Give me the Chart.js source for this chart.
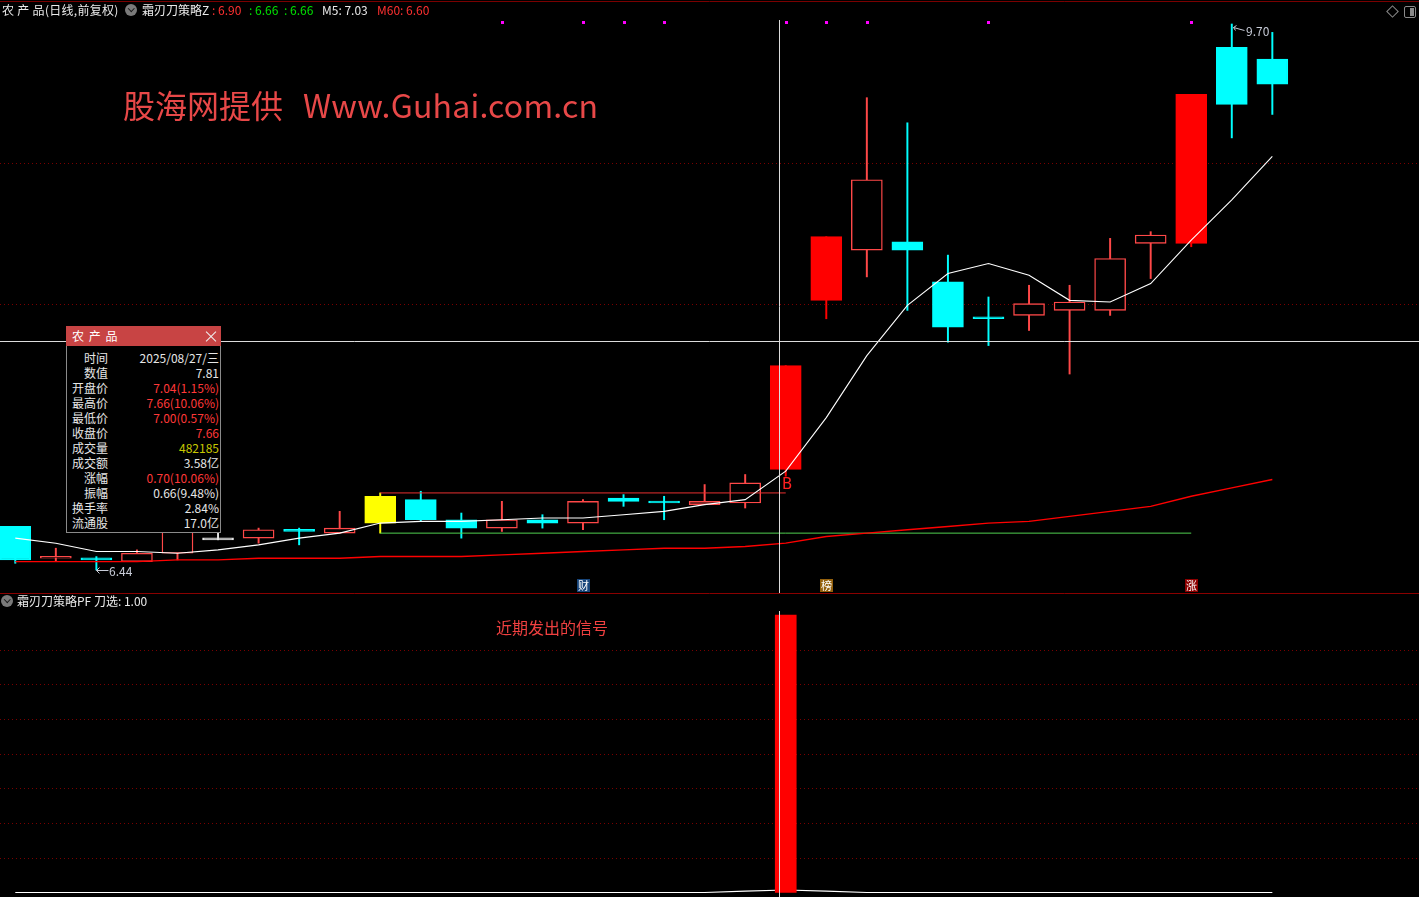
<!DOCTYPE html>
<html lang="zh-CN">
<head>
<meta charset="utf-8">
<title>农产品 霜刃刀策略</title>
<script src="https://cdn.jsdelivr.net/npm/chart.js@4.4.1/dist/chart.umd.min.js"></script>
<style>
  html, body { margin:0; padding:0; background:#000; }
  body { position:relative; width:1419px; height:897px; overflow:hidden;
         font-family:"Noto Sans CJK SC","Noto Sans",sans-serif; color:#e6e6e6; }
  canvas { position:absolute; left:0; display:block; }
  #cTop { top:0; }
  #cBot { top:593px; }
  .t { position:absolute; white-space:nowrap; font-size:12px; line-height:14px; }
  .icon { position:absolute; width:12px; height:12px; border-radius:50%; background:#7a7a7a; }
  .icon::after { content:""; position:absolute; left:3.5px; top:2px; width:3.5px; height:3.5px;
                 border-right:1.6px solid #1a1a1a; border-bottom:1.6px solid #1a1a1a; transform:rotate(45deg); }
  .red { color:#ff3030; } .green { color:#00e000; } .white { color:#eaeaea; }
  #wm { position:absolute; top:83px; font-size:32px; line-height:42px; color:#e84848; white-space:nowrap; }
  #tip { position:absolute; left:66px; top:326px; width:155px; height:207px; background:#000;
         box-sizing:border-box; border:1px solid #8a8a8a; border-top:none; z-index:5; }
  #tipTitle { position:absolute; left:-1px; top:0; width:155px; height:20px; background:#c84444; color:#fff;
              font-size:12px; line-height:20px; }
  #tipTitle .name { position:absolute; left:6px; top:0; letter-spacing:1px; }
  #tipTitle .x { position:absolute; left:140px; top:5px; width:10px; height:10px; }
  #tipTitle .x::before, #tipTitle .x::after { content:""; position:absolute; left:-2px; top:4.5px; width:14px; height:1px; background:#f0f0f0; }
  #tipTitle .x::before { transform:rotate(45deg); } #tipTitle .x::after { transform:rotate(-45deg); }
  .lab { position:absolute; left:0; width:41px; text-align:right; font-size:12px; line-height:15px; color:#e6e6e6; white-space:nowrap; }
  .val { position:absolute; right:1px; text-align:right; font-size:12px; line-height:15px; color:#e6e6e6; white-space:nowrap; }
  .badge { position:absolute; width:13px; height:13px; font-size:11px; line-height:13px; text-align:center; color:#fff; }
  .ext { position:absolute; font-size:12px; line-height:14px; color:#c8ccd8; white-space:nowrap; }
</style>
</head>
<body>
<canvas id="cTop" width="1419" height="593"></canvas>
<canvas id="cBot" width="1419" height="304"></canvas>

<!-- header of the main pane -->
<div class="t white" style="left:2px;top:3px;letter-spacing:0.3px;">农 产 品(日线,前复权)</div>
<div class="icon" style="left:125px;top:4px;"></div>
<div class="t white" style="left:142px;top:3px;">霜刃刀策略Z</div>
<div class="t red"   id="hA" style="left:212px;top:3px;"></div>
<div class="t green" id="hB" style="left:249px;top:3px;"></div>
<div class="t green" id="hC" style="left:284px;top:3px;"></div>
<div class="t white" id="hM5" style="left:322px;top:3px;"></div>
<div class="t red"   id="hM60" style="left:377px;top:3px;"></div>

<!-- top-right icons -->
<div style="position:absolute;left:1388px;top:7px;width:7px;height:7px;border:1px solid #8a8a8a;transform:rotate(45deg);"></div>
<div style="position:absolute;left:1404px;top:6px;width:10px;height:10px;border:1px solid #8a8a8a;border-radius:2px;">
  <div style="position:absolute;right:1px;top:1px;width:4px;height:8px;background:#8a8a8a;"></div>
</div>

<div id="wm"><span style="position:absolute;left:123px;">股海网提供</span><span style="position:absolute;left:303px;letter-spacing:0.2px;">Www.Guhai.com.cn</span></div>

<!-- info box -->
<div id="tip">
  <div id="tipTitle"><span class="name">农 产 品</span><span class="x"></span></div>
</div>

<!-- header of the lower pane -->
<div class="icon" style="left:1px;top:595px;"></div>
<div class="t white" style="left:17px;top:594px;">霜刃刀策略PF 刀选: 1.00</div>
<div class="t" style="left:496px;top:616px;font-size:16px;line-height:22px;color:#f04040;">近期发出的信号</div>

<script>
// ---------------- data ----------------
const dates = ['2025/07/31','2025/08/01','2025/08/04','2025/08/05','2025/08/06','2025/08/07','2025/08/08','2025/08/11',
  '2025/08/12','2025/08/13','2025/08/14','2025/08/15','2025/08/18','2025/08/19','2025/08/20','2025/08/21',
  '2025/08/22','2025/08/25','2025/08/26','2025/08/27','2025/08/28','2025/08/29','2025/09/01','2025/09/02',
  '2025/09/03','2025/09/04','2025/09/05','2025/09/08','2025/09/09','2025/09/10','2025/09/11','2025/09/12'];
const openP  = [6.70,6.51,6.51,6.49,6.54,6.62,6.63,6.68,6.66,6.72,6.86,6.74,6.69,6.74,6.72,6.87,6.85,6.83,6.84,7.04,8.05,8.35,8.40,8.16,7.95,7.96,7.99,7.99,8.39,8.39,9.56,9.49];
const highP  = [6.70,6.57,6.52,6.56,6.70,6.68,6.69,6.69,6.79,6.90,6.91,6.78,6.85,6.77,6.86,6.89,6.88,6.95,7.01,7.66,8.43,9.26,9.11,8.32,8.07,8.14,8.14,8.42,8.46,9.28,9.70,9.65];
const lowP   = [6.48,6.49,6.44,6.49,6.50,6.62,6.60,6.59,6.66,6.66,6.73,6.63,6.67,6.69,6.68,6.82,6.74,6.83,6.81,7.00,7.94,8.19,7.99,7.80,7.78,7.87,7.61,7.96,8.18,8.37,9.02,9.16];
const closeP = [6.50,6.52,6.50,6.54,6.67,6.62,6.68,6.67,6.69,6.88,6.74,6.69,6.74,6.72,6.85,6.85,6.84,6.85,6.96,7.66,8.43,8.77,8.35,7.89,7.94,8.03,8.04,8.30,8.44,9.28,9.22,9.34];
const ma5  = [6.63,6.60,6.55,6.55,6.54,6.56,6.59,6.63,6.66,6.72,6.73,6.73,6.74,6.75,6.75,6.77,6.79,6.83,6.86,7.03,7.35,7.72,8.02,8.21,8.27,8.20,8.05,8.04,8.15,8.41,8.65,8.91];
const ma60 = [6.49,6.49,6.49,6.49,6.50,6.50,6.51,6.51,6.51,6.52,6.52,6.52,6.53,6.54,6.55,6.56,6.57,6.57,6.58,6.60,6.64,6.66,6.68,6.70,6.72,6.73,6.76,6.79,6.82,6.88,6.93,6.98];
const levelHigh = 6.90, levelLow = 6.66, levelLow2 = 6.66;
const levelStartIdx = 9, levelHighEndIdx = 19, levelLowEndIdx = 29;
const highlightIdx = [9];                            // yellow signal candle
const signalMarkIdx = [12,14,15,16,19,20,21,24,29];  // magenta marks on the top edge
const events = [{i:14, t:'财'}, {i:20, t:'榜'}, {i:29, t:'涨'}];
const buyIdx = 19;
const knifeSignal = [0,0,0,0,0,0,0,0,0,0,0,0,0,0,0,0,0,0,0,1,0,0,0,0,0,0,0,0,0,0,0,0];
const knifeLine   = [0,0,0,0,0,0,0,0,0,0,0,0,0,0,0,0,0,0,0.005,0.009,0.005,0,0,0,0,0,0,0,0,0,0,0];
const topGrid = [8.87, 8.03];
const botGrid = [0.125,0.25,0.375,0.5,0.625,0.75,0.875];
const crossX = 18.83, crossY = 7.81;

// ---------------- scales ----------------
const xMin = -0.377, xMax = 34.617;
const yMinTop = 6.3025, yMaxTop = 9.8433;
const yMinBot = -0.0162, yMaxBot = 1.0793;

const idx = dates.map((_, i) => i);
function kind(i) {
  if (highlightIdx.includes(i)) return 'yellow';
  if (closeP[i] > openP[i]) {
    const lim = i > 0 && closeP[i] >= Math.round(closeP[i-1] * 110) / 100 - 0.001;
    return lim ? 'limit' : 'up';
  }
  if (closeP[i] < openP[i]) return 'down';
  return 'flat';
}
const LINE = { up:'#ff4848', limit:'#ff0000', down:'#00ffff', yellow:'#ffff00', flat:'#e6e6e6' };
const FILL = { up:'#000000', limit:'#ff0000', down:'#00ffff', yellow:'#ffff00', flat:'#e6e6e6' };

const baseOpts = (ymin, ymax) => ({
  responsive:false, animation:false, devicePixelRatio:1, events:[],
  layout:{ padding:0 },
  plugins:{ legend:{display:false}, tooltip:{enabled:false} },
  scales:{
    x:{ type:'linear', min:xMin, max:xMax, display:false, offset:false },
    y:{ type:'linear', min:ymin, max:ymax, display:false }
  }
});

function dotted(ctx, y, w, color) {
  ctx.save(); ctx.strokeStyle = color; ctx.lineWidth = 1; ctx.setLineDash([1,3]);
  ctx.beginPath(); ctx.moveTo(0, y); ctx.lineTo(w, y); ctx.stroke(); ctx.restore();
}

const topDeco = {
  id:'topDeco',
  beforeDatasetsDraw(chart) {
    const { ctx, scales:{ y } } = chart;
    topGrid.forEach(v => dotted(ctx, Math.round(y.getPixelForValue(v)) + 0.5, chart.width, '#7a0000'));
  },
  afterDatasetsDraw(chart) {
    const { ctx, scales:{ x, y } } = chart;
    ctx.save();
    ctx.lineWidth = 1;
    ctx.strokeStyle = '#7a0000';
    ctx.beginPath(); ctx.moveTo(0, 1.5); ctx.lineTo(chart.width, 1.5); ctx.stroke();
    ctx.fillStyle = '#ff00ff';
    signalMarkIdx.forEach(i => { const px = Math.round(x.getPixelForValue(i)); ctx.fillRect(px - 1, 21, 3, 3); });
    // crosshair
    ctx.strokeStyle = '#dcdcdc';
    const cx = Math.round(x.getPixelForValue(crossX)) + 0.5;
    const cy = Math.round(y.getPixelForValue(crossY)) + 0.5;
    ctx.beginPath(); ctx.moveTo(cx, 20); ctx.lineTo(cx, chart.height);
    ctx.moveTo(0, cy); ctx.lineTo(chart.width, cy); ctx.stroke();
    // extreme arrows
    ctx.strokeStyle = '#c8ccd8';
    const hi = highP.indexOf(Math.max(...highP)), lo = lowP.indexOf(Math.min(...lowP));
    const hx = Math.round(x.getPixelForValue(hi)) + 1.5, hy = Math.round(y.getPixelForValue(highP[hi])) + 1.5;
    ctx.beginPath(); ctx.moveTo(hx, hy + 2); ctx.lineTo(hx + 11, hy + 5);
    ctx.moveTo(hx, hy + 2); ctx.lineTo(hx + 3, hy); ctx.moveTo(hx, hy + 2); ctx.lineTo(hx + 2, hy + 5); ctx.stroke();
    const lx = Math.round(x.getPixelForValue(lo)) + 0.5, ly = Math.round(y.getPixelForValue(lowP[lo])) + 0.5;
    ctx.beginPath(); ctx.moveTo(lx, ly); ctx.lineTo(lx + 12, ly);
    ctx.moveTo(lx, ly); ctx.lineTo(lx + 3, ly - 3); ctx.moveTo(lx, ly); ctx.lineTo(lx + 3, ly + 3); ctx.stroke();
    ctx.restore();
  }
};

const botDeco = {
  id:'botDeco',
  beforeDatasetsDraw(chart) {
    const { ctx, scales:{ y } } = chart;
    botGrid.forEach(v => dotted(ctx, Math.round(y.getPixelForValue(v)) + 0.5, chart.width, '#7a0000'));
  },
  afterDatasetsDraw(chart) {
    const { ctx, scales:{ x } } = chart;
    ctx.save(); ctx.lineWidth = 1;
    ctx.strokeStyle = '#8a0000';
    ctx.beginPath(); ctx.moveTo(0, 0.5); ctx.lineTo(chart.width, 0.5); ctx.stroke();
    ctx.strokeStyle = '#dcdcdc';
    const cx = Math.round(x.getPixelForValue(crossX)) + 0.5;
    ctx.beginPath(); ctx.moveTo(cx, 18); ctx.lineTo(cx, chart.height); ctx.stroke();
    ctx.restore();
  }
};

const topChart = new Chart(document.getElementById('cTop'), {
  type:'bar',
  data:{ datasets:[
    { type:'line', label:'M5', data: idx.map(i => ({x:i, y:ma5[i]})), borderColor:'#ffffff', borderWidth:1.1, pointRadius:0, tension:0, order:0 },
    { type:'line', label:'M60', data: idx.map(i => ({x:i, y:ma60[i]})), borderColor:'#ff0000', borderWidth:1.4, pointRadius:0, tension:0, order:0 },
    { type:'line', label:'上轨', data:[{x:levelStartIdx, y:levelHigh},{x:levelHighEndIdx, y:levelHigh}], borderColor:'#e83030', borderWidth:1, pointRadius:0, order:0 },
    { type:'line', label:'下轨', data:[{x:levelStartIdx, y:levelLow},{x:levelLowEndIdx, y:levelLow}], borderColor:'#50d050', borderWidth:1, pointRadius:0, order:0 },
    { type:'bar', label:'实体', data: idx.map(i => ({x:i, y:[openP[i], closeP[i]]})),
      backgroundColor: idx.map(i => FILL[kind(i)]), borderColor: idx.map(i => LINE[kind(i)]),
      borderWidth:1.4, borderSkipped:false, barThickness:31, minBarLength:2, grouped:false, order:1 },
    { type:'bar', label:'影线', data: idx.map(i => ({x:i, y:[lowP[i], highP[i]]})),
      backgroundColor: idx.map(i => LINE[kind(i)]), borderWidth:0, barThickness:1.3, grouped:false, order:2 }
  ]},
  options: baseOpts(yMinTop, yMaxTop),
  plugins:[topDeco]
});

const botChart = new Chart(document.getElementById('cBot'), {
  type:'bar',
  data:{ datasets:[
    { type:'bar', label:'刀选', data: idx.filter(i => knifeSignal[i] > 0).map(i => ({x:i, y:knifeSignal[i]})),
      backgroundColor:'#ff0000', barThickness:21, grouped:false, order:0 },
    { type:'line', label:'线', data: idx.map(i => ({x:i, y:knifeLine[i]})), borderColor:'#ffffff', borderWidth:1.2,
      pointRadius:0, tension:0, order:1 }
  ]},
  options: baseOpts(yMinBot, yMaxBot),
  plugins:[botDeco]
});

// ---------------- texts bound to the scales ----------------
const fmt = v => v.toFixed(2);
document.getElementById('hA').textContent = ': ' + fmt(levelHigh);
document.getElementById('hB').textContent = ': ' + fmt(levelLow);
document.getElementById('hC').textContent = ': ' + fmt(levelLow2);
document.getElementById('hM5').textContent = 'M5: ' + fmt(ma5[buyIdx]);
document.getElementById('hM60').textContent = 'M60: ' + fmt(ma60[buyIdx]);

const xs = v => topChart.scales.x.getPixelForValue(v);
const ys = v => topChart.scales.y.getPixelForValue(v);
function addDiv(cls, text, style) {
  const d = document.createElement('div'); d.className = cls; d.textContent = text;
  Object.assign(d.style, style); document.body.appendChild(d); return d;
}
// extremes
const hiI = highP.indexOf(Math.max(...highP)), loI = lowP.indexOf(Math.min(...lowP));
addDiv('ext', fmt(highP[hiI]), { left: (Math.round(xs(hiI)) + 14) + 'px', top: (Math.round(ys(highP[hiI])) + 0) + 'px' });
addDiv('ext', fmt(lowP[loI]), { left: (Math.round(xs(loI)) + 13) + 'px', top: (Math.round(ys(lowP[loI])) - 6) + 'px' });
// buy mark
addDiv('t', 'B', { left: (Math.round(xs(buyIdx)) - 4) + 'px', top: (Math.round(ys(lowP[buyIdx])) + 0) + 'px',
  fontSize:'15px', lineHeight:'16px', color:'#ff2020', fontFamily:'"DejaVu Sans",sans-serif' });
// event badges
const badgeBg = { '财':'#17457a', '榜':'#94600c', '涨':'#8c0000' };
events.forEach(e => addDiv('badge', e.t, { left: (Math.round(xs(e.i)) - 6) + 'px', top:'579px', background: badgeBg[e.t] }));

// info box rows
const tipRows = [
  ['时间', '2025/08/27/三', '#e6e6e6'],
  ['数值', fmt(crossY), '#e6e6e6'],
  ['开盘价', '7.04(1.15%)', '#ff3838'],
  ['最高价', '7.66(10.06%)', '#ff3838'],
  ['最低价', '7.00(0.57%)', '#ff3838'],
  ['收盘价', '7.66', '#ff3838'],
  ['成交量', '482185', '#c8c800'],
  ['成交额', '3.58亿', '#e6e6e6'],
  ['涨幅', '0.70(10.06%)', '#ff3838'],
  ['振幅', '0.66(9.48%)', '#e6e6e6'],
  ['换手率', '2.84%', '#e6e6e6'],
  ['流通股', '17.0亿', '#e6e6e6']
];
const tip = document.getElementById('tip');
tipRows.forEach((r, k) => {
  const top = (24 + 15 * k) + 'px';
  const a = document.createElement('div'); a.className = 'lab'; a.textContent = r[0]; a.style.top = top; tip.appendChild(a);
  const b = document.createElement('div'); b.className = 'val'; b.textContent = r[1]; b.style.top = top; b.style.color = r[2]; tip.appendChild(b);
});
</script>
</body>
</html>
